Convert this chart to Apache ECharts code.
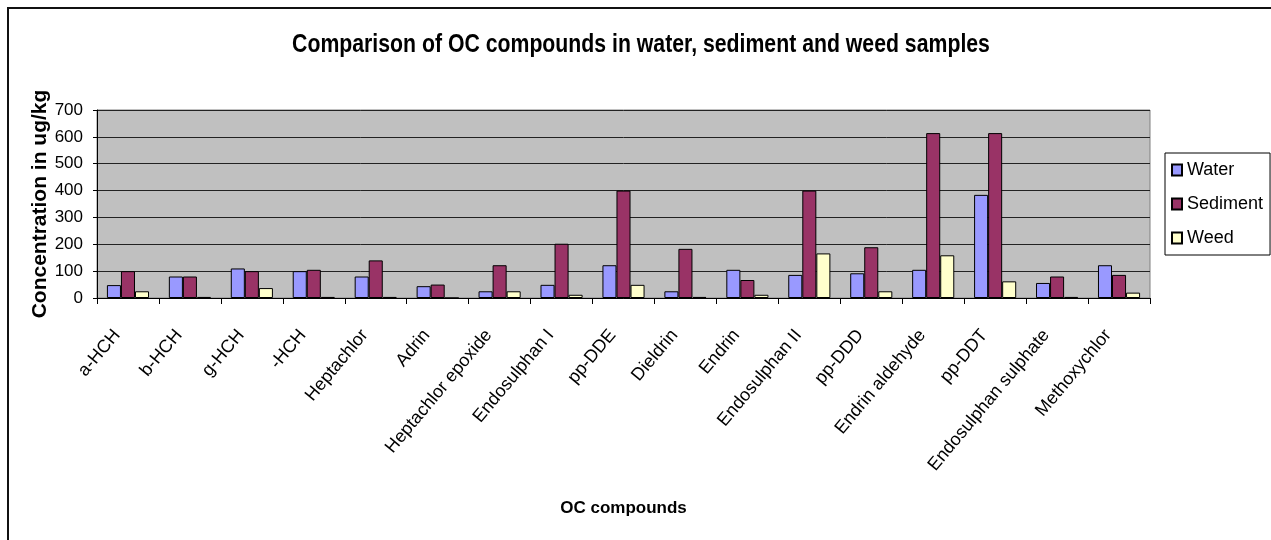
<!DOCTYPE html>
<html>
<head>
<meta charset="utf-8">
<title>OC compounds</title>
<script src="https://cdn.jsdelivr.net/npm/echarts@6/dist/echarts.min.js"></script>
<style>
  html, body { margin: 0; padding: 0; background: #ffffff; }
  #chart { width: 1271px; height: 540px; }
</style>
</head>
<body>
<div id="chart"></div>
<script>
// Organochlorine compound concentrations (ug/kg) per sample type
const compounds = [
  'a-HCH', 'b-HCH', 'g-HCH', '-HCH', 'Heptachlor', 'Adrin',
  'Heptachlor epoxide', 'Endosulphan I', 'pp-DDE', 'Dieldrin', 'Endrin',
  'Endosulphan II', 'pp-DDD', 'Endrin aldehyde', 'pp-DDT',
  'Endosulphan sulphate', 'Methoxychlor'
];
const water    = [48, 80, 110, 100, 80, 44, 25, 49, 122, 25, 105, 86, 92, 105, 384, 56, 122];
const sediment = [100, 80, 100, 105, 140, 50, 122, 202, 400, 183, 67, 400, 189, 614, 614, 80, 86];
const weed     = [25, 4, 37, 4, 4, 0, 25, 12, 49, 4, 12, 166, 25, 159, 62, 4, 20];
const yTicks = { min: 0, max: 700, step: 100 };

const SANS = '"Liberation Sans", Arial, sans-serif';

function barSeries(name, data, color) {
  return {
    name: name,
    type: 'bar',
    data: data,
    barGap: '0%',
    barCategoryGap: '32%',
    itemStyle: { color: color, borderColor: '#000', borderWidth: 1 },
    emphasis: { disabled: true }
  };
}

const chart = echarts.init(document.getElementById('chart'), null, { renderer: 'canvas' });
chart.setOption({
  animation: false,
  backgroundColor: '#ffffff',
  legend: {
    orient: 'vertical',
    left: 1165,
    top: 153,
    padding: [7, 7, 7, 6],
    itemGap: 14,
    itemWidth: 10,
    itemHeight: 11,
    icon: 'rect',
    borderColor: '#000',
    borderWidth: 1,
    backgroundColor: '#fff',
    textStyle: { fontFamily: SANS, fontSize: 18, color: '#000', lineHeight: 20 },
    data: ['Water', 'Sediment', 'Weed']
  },
  grid: {
    left: 97, right: 121, top: 110, bottom: 242,
    show: true,
    backgroundColor: '#c0c0c0',
    borderColor: '#808080',
    borderWidth: 1
  },
  xAxis: {
    type: 'category',
    data: compounds,
    name: 'OC compounds',
    nameLocation: 'middle',
    nameGap: 202,
    nameMoveOverlap: false,
    nameTextStyle: { fontFamily: SANS, fontWeight: 'bold', fontSize: 17, color: '#000' },
    axisLine: { lineStyle: { color: '#000', width: 1 } },
    axisTick: { show: true, alignWithLabel: false, interval: 0, length: 6, lineStyle: { color: '#000' } },
    axisLabel: {
      interval: 0, rotate: 50, margin: 21,
      padding: [0, 17, 0, 0],
      fontFamily: SANS, fontSize: 18, color: '#000'
    }
  },
  yAxis: {
    type: 'value',
    min: yTicks.min,
    max: yTicks.max,
    interval: yTicks.step,
    name: 'Concentration in ug/kg',
    nameLocation: 'middle',
    nameRotate: 90,
    nameGap: 46,
    nameMoveOverlap: false,
    nameTextStyle: { fontFamily: SANS, fontWeight: 'bold', fontSize: 21, color: '#000' },
    axisLine: { show: true, lineStyle: { color: '#000', width: 1 } },
    axisTick: { show: true, length: 4, lineStyle: { color: '#000' } },
    axisLabel: { fontFamily: SANS, fontSize: 17, color: '#000', margin: 14 },
    splitLine: { show: true, lineStyle: { color: '#222', width: 1 } }
  },
  series: [
    barSeries('Water', water, '#9999ff'),
    barSeries('Sediment', sediment, '#993366'),
    barSeries('Weed', weed, '#ffffcc')
  ],
  graphic: [
    {
      // chart heading, set in a condensed bold face
      type: 'text',
      silent: true,
      x: 641,
      y: 45,
      scaleX: 0.85,
      style: {
        text: 'Comparison of OC compounds in water, sediment and weed samples',
        font: 'bold 25px "Liberation Sans", Arial, sans-serif',
        fill: '#000',
        align: 'center',
        verticalAlign: 'middle'
      }
    },
    {
      // outer chart frame
      type: 'rect',
      silent: true,
      z: 100,
      shape: { x: 8, y: 8, width: 1400, height: 700 },
      style: { fill: null, stroke: '#111', lineWidth: 2 }
    }
  ]
});
</script>
</body>
</html>
